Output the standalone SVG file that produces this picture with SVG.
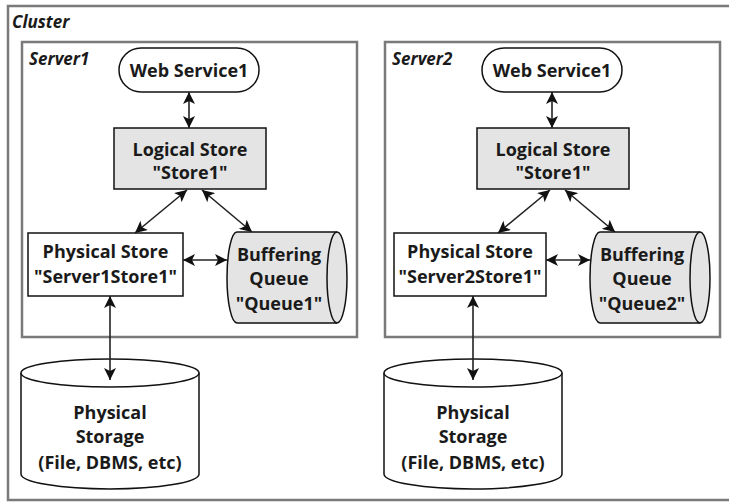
<svg xmlns="http://www.w3.org/2000/svg" width="729" height="502" viewBox="0 0 729 502">
<defs>
<style>
.t{font-family:"Open Sans","Liberation Sans",sans-serif;font-weight:bold;font-size:18px;fill:#1a1a1a;text-anchor:middle}
.lbl{font-family:"Open Sans","Liberation Sans",sans-serif;font-weight:bold;font-style:italic;font-size:17px;fill:#1a1a1a}
.frame{fill:none;stroke:#7a7a7a;stroke-width:2.5}
.node{stroke:#111;stroke-width:1.5}
.conn{stroke:#222;stroke-width:1.6;fill:none;marker-start:url(#ah);marker-end:url(#ah)}
</style>
<marker id="ah" viewBox="0 0 10 10" refX="10" refY="5" markerWidth="12" markerHeight="12" markerUnits="userSpaceOnUse" orient="auto-start-reverse">
<path d="M0,0 L10,5 L0,10 L2.5,5 z" fill="#111"/>
</marker>
</defs>
<rect width="729" height="502" fill="#fff"/>
<g id="cluster">
<path class="frame" d="M731,6 L8,6 L8,500 L731,500"/>
<text class="lbl" x="12" y="28">Cluster</text>
</g>
<g id="server1">
<rect class="frame" x="22" y="42" width="335" height="295"/>
<text class="lbl" x="29" y="65">Server1</text>
</g>
<g id="server2">
<rect class="frame" x="385" y="42" width="335" height="295"/>
<text class="lbl" x="392" y="65">Server2</text>
</g>
<g id="s1-web">
<rect class="node" x="119" y="48" width="140" height="44" rx="22" fill="#fff"/>
<text class="t" x="189" y="77">Web Service1</text>
</g>
<g id="s1-logical">
<rect class="node" x="114" y="128" width="152" height="61" fill="#e4e4e4"/>
<text class="t" x="190" y="156">Logical Store</text>
<text class="t" x="190" y="179">"Store1"</text>
</g>
<g id="s1-physical">
<rect class="node" x="28" y="233" width="155" height="63" fill="#fff"/>
<text class="t" x="105.5" y="258">Physical Store</text>
<text class="t" x="105.5" y="283">"Server1Store1"</text>
</g>
<g id="s1-queue">
<path class="node" d="M337,232 L237,232 A10,45.5 0 0 0 237,323 L337,323" fill="#e4e4e4"/>
<ellipse class="node" cx="337" cy="277.5" rx="10" ry="45.5" fill="#e4e4e4"/>
<text class="t" x="279" y="261">Buffering</text>
<text class="t" x="279" y="285">Queue</text>
<text class="t" x="279" y="310">"Queue1"</text>
</g>
<g id="s1-storage">
<path class="node" d="M21,373 L21,474 A89,15 0 0 0 199,474 L199,373" fill="#fff"/>
<ellipse class="node" cx="110" cy="373" rx="89" ry="14" fill="#fff"/>
<text class="t" x="110" y="419">Physical</text>
<text class="t" x="110" y="443">Storage</text>
<text class="t" x="110" y="469">(File, DBMS, etc)</text>
</g>
<g id="s2-web">
<rect class="node" x="482" y="48" width="140" height="44" rx="22" fill="#fff"/>
<text class="t" x="552" y="77">Web Service1</text>
</g>
<g id="s2-logical">
<rect class="node" x="477" y="128" width="152" height="61" fill="#e4e4e4"/>
<text class="t" x="553" y="156">Logical Store</text>
<text class="t" x="553" y="179">"Store1"</text>
</g>
<g id="s2-physical">
<rect class="node" x="394" y="233" width="152" height="63" fill="#fff"/>
<text class="t" x="470" y="258">Physical Store</text>
<text class="t" x="470" y="283">"Server2Store1"</text>
</g>
<g id="s2-queue">
<path class="node" d="M700,232 L600,232 A10,45.5 0 0 0 600,323 L700,323" fill="#e4e4e4"/>
<ellipse class="node" cx="700" cy="277.5" rx="10" ry="45.5" fill="#e4e4e4"/>
<text class="t" x="642" y="261">Buffering</text>
<text class="t" x="642" y="285">Queue</text>
<text class="t" x="642" y="310">"Queue2"</text>
</g>
<g id="s2-storage">
<path class="node" d="M384,373 L384,474 A89,15 0 0 0 562,474 L562,373" fill="#fff"/>
<ellipse class="node" cx="473" cy="373" rx="89" ry="14" fill="#fff"/>
<text class="t" x="473" y="419">Physical</text>
<text class="t" x="473" y="443">Storage</text>
<text class="t" x="473" y="469">(File, DBMS, etc)</text>
</g>
<g id="connectors">
<line class="conn" x1="189" y1="92" x2="189" y2="128"/>
<line class="conn" x1="187" y1="190" x2="135" y2="233"/>
<line class="conn" x1="202" y1="190" x2="252" y2="232"/>
<line class="conn" x1="183" y1="260" x2="227" y2="260"/>
<line class="conn" x1="110" y1="296" x2="110" y2="380"/>
<line class="conn" x1="552" y1="92" x2="552" y2="128"/>
<line class="conn" x1="550" y1="190" x2="498" y2="233"/>
<line class="conn" x1="565" y1="190" x2="615" y2="232"/>
<line class="conn" x1="546" y1="260" x2="590" y2="260"/>
<line class="conn" x1="473" y1="296" x2="473" y2="380"/>
</g>
</svg>
